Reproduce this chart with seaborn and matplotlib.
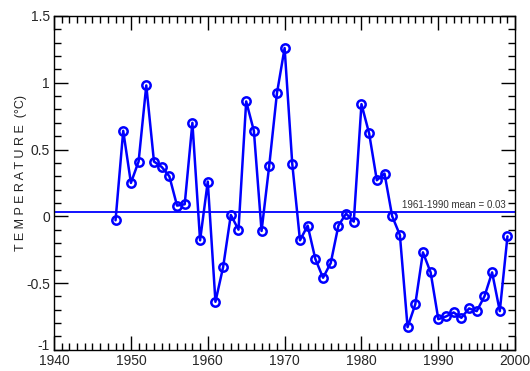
import matplotlib
matplotlib.use("Agg")
import matplotlib.pyplot as plt
import matplotlib.transforms as mtransforms
from matplotlib.ticker import MultipleLocator
import pandas as pd
import seaborn as sns

years = list(range(1948, 2000))
temps = [-0.03, 0.64, 0.25, 0.41, 0.98, 0.41, 0.37, 0.30, 0.08, 0.09,
         0.70, -0.18, 0.26, -0.64, -0.38, 0.01, -0.10, 0.86, 0.64, -0.11,
         0.38, 0.92, 1.26, 0.39, -0.18, -0.07, -0.32, -0.46, -0.35, -0.07,
         0.02, -0.04, 0.84, 0.62, 0.27, 0.32, 0.00, -0.14, -0.83, -0.66,
         -0.27, -0.42, -0.77, -0.75, -0.72, -0.76, -0.69, -0.71, -0.60, -0.42,
         -0.71, -0.15]
mean_value = 0.03
mean_label = "1961-1990 mean = 0.03"
ytick_vals = [-1, -0.5, 0, 0.5, 1, 1.5]
ytick_labels = ["-1", "-0.5", "0", "0.5", "1", "1.5"]

df = pd.DataFrame({"year": years, "temp": temps})

sns.set_style("ticks")
plt.rcParams['font.family'] = ['Liberation Sans', 'DejaVu Sans']

fig = plt.figure(figsize=(5.3, 3.71), dpi=100)
ax = fig.add_axes([0.102, 0.057, 0.870, 0.900])

ax.axhline(mean_value, color="#0000ff", lw=1.3, zorder=1)
sns.lineplot(data=df, x="year", y="temp", ax=ax, color="#0000ff", lw=1.8,
             marker="o", markersize=6, markerfacecolor="none",
             markeredgecolor="#0000ff", markeredgewidth=1.8)
ax.text(1998.8, mean_value + 0.02, mean_label, ha="right", va="bottom",
        fontsize=7, color="#333333")

ax.set_xlim(1940, 2000)
ax.set_ylim(-1, 1.5)
ax.xaxis.set_major_locator(MultipleLocator(10))
ax.xaxis.set_minor_locator(MultipleLocator(1))
ax.yaxis.set_minor_locator(MultipleLocator(0.1))
ax.set_yticks(ytick_vals)
ax.set_yticklabels(ytick_labels)
ax.tick_params(which="both", direction="in", top=True, right=True,
               labelsize=10, width=1, color="black", pad=3)
ax.tick_params(which="major", length=10)
ax.tick_params(which="minor", length=5)
for s in ax.spines.values():
    s.set_linewidth(1)
    s.set_color("black")

# nudge the lowest y label up so it clears the 1940 label
lab = ax.get_yticklabels()[0]
lab.set_transform(lab.get_transform() +
                  mtransforms.ScaledTranslation(0, 4 / 72, fig.dpi_scale_trans))

ax.set_xlabel("")
ax.set_ylabel("T E M P E R A T U R E  (°C)", fontsize=9, color="#222222")
ax.yaxis.set_label_coords(-0.058, 0.53)

fig.savefig("out.png", dpi=100)
